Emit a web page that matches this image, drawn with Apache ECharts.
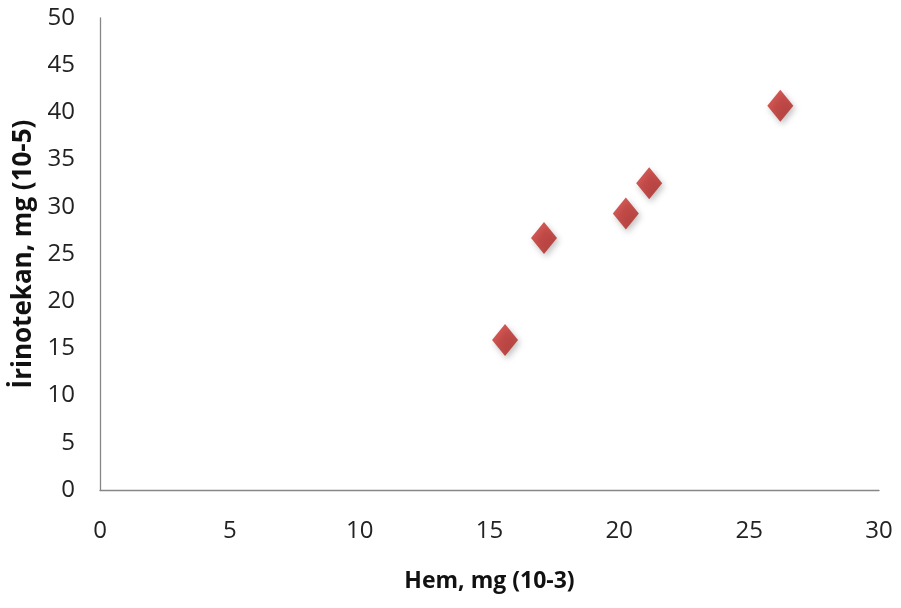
<!DOCTYPE html>
<html>
<head>
<meta charset="utf-8">
<script src="https://cdn.jsdelivr.net/npm/echarts@6/dist/echarts.min.js"></script>
<style>
  html, body { margin: 0; padding: 0; background: #fff; }
  #chart { width: 901px; height: 608px; }
</style>
</head>
<body>
<div id="chart"></div>
<script>
// Hem (x, mg ×10^-3) against İrinotekan (y, mg ×10^-5)
const hemValues = [15.6, 17.1, 20.25, 21.15, 26.2];
const irinotekanValues = [15.9, 26.7, 29.3, 32.5, 40.7];
const xAxisTitle = 'Hem, mg (10-3)';
const yAxisTitle = 'İrinotekan, mg (10-5)';

const points = hemValues.map((x, i) => [x, irinotekanValues[i]]);

const FONT = '"Open Sans", sans-serif';
const labelFont = { fontFamily: FONT, fontSize: 24, color: '#222' };

const chart = echarts.init(document.getElementById('chart'));
chart.setOption({
  backgroundColor: '#fff',
  animation: false,
  grid: {
    left: 100, right: 22, top: 18, bottom: 118,
    containLabel: false, outerBoundsMode: 'none'
  },
  xAxis: {
    type: 'value', min: 0, max: 30, interval: 5,
    name: xAxisTitle, nameLocation: 'middle', nameGap: 80,
    nameTextStyle: { fontFamily: FONT, fontSize: 23, fontWeight: 'bold', color: '#111' },
    axisLine: { show: true, lineStyle: { color: '#868686', width: 1.3 } },
    axisTick: { show: false },
    splitLine: { show: false },
    axisLabel: Object.assign({ margin: 29 }, labelFont)
  },
  yAxis: {
    type: 'value', min: 0, max: 50, interval: 5,
    name: yAxisTitle, nameLocation: 'middle', nameGap: 62, nameRotate: 90,
    nameTextStyle: { fontFamily: FONT, fontSize: 26, fontWeight: 'bold', color: '#111' },
    axisLine: { show: true, lineStyle: { color: '#868686', width: 1.3 } },
    axisTick: { show: false },
    splitLine: { show: false },
    axisLabel: Object.assign({ margin: 25 }, labelFont)
  },
  series: [{
    type: 'scatter',
    data: points,
    symbol: 'diamond',
    symbolSize: [26, 32],
    itemStyle: {
      color: new echarts.graphic.LinearGradient(0, 0, 1, 1, [
        { offset: 0, color: '#d0322e' },
        { offset: 1, color: '#a8201d' }
      ]),
      shadowColor: 'rgba(0,0,0,0.3)',
      shadowBlur: 6,
      shadowOffsetX: 2,
      shadowOffsetY: 3
    }
  }]
});
</script>
</body>
</html>
